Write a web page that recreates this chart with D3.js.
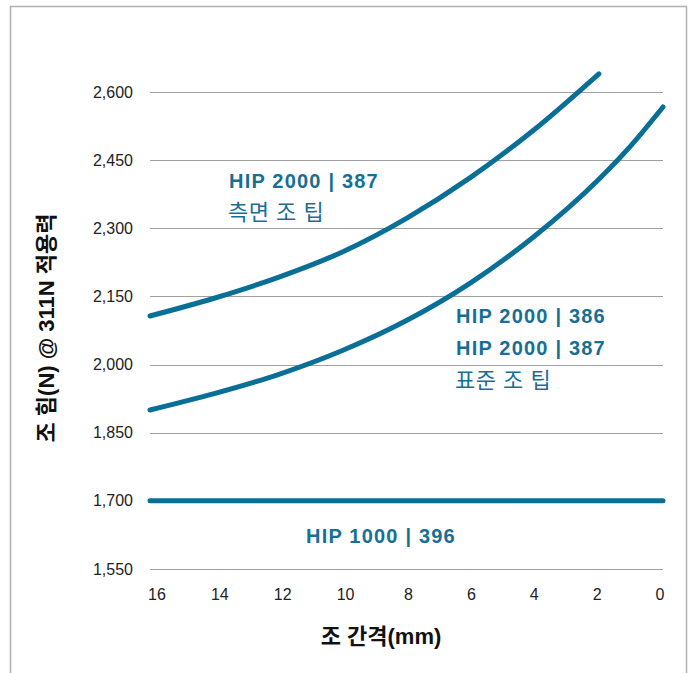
<!DOCTYPE html>
<html>
<head>
<meta charset="utf-8">
<script src="https://cdn.jsdelivr.net/npm/d3@7"></script>
<style>
  html, body { margin: 0; padding: 0; background: #fff; }
  svg text { font-family: "Liberation Sans", "Noto Sans CJK KR", sans-serif; }
</style>
</head>
<body>
<svg id="chart" width="699" height="673"></svg>
<script>
// jaw gap (mm) and jaw force (N)
var sideGap = [16, 14, 12, 10, 8, 6, 4, 2];
var sideForce = [2107, 2146, 2192, 2248, 2322, 2412, 2518, 2640];

var stdGap = [16, 14, 12, 10, 8, 6, 4, 2, 1, 0];
var stdForce = [1900, 1936, 1978, 2031, 2097, 2180, 2283, 2408, 2482, 2567];

var flatGap = [16, 0];
var flatForce = [1700, 1700];

var xTicks = [16, 14, 12, 10, 8, 6, 4, 2, 0];
var yTicks = [1550, 1700, 1850, 2000, 2150, 2300, 2450, 2600];

var BLUE = '#0a6f96';
var TEXT_BLUE = '#176f95';

var svg = d3.select('#chart');

// outer frame
svg.append('rect')
  .attr('x', 10.5).attr('y', 6.5)
  .attr('width', 676).attr('height', 700)
  .attr('fill', 'none')
  .attr('stroke', '#b0b0b0')
  .attr('stroke-width', 1.5);

var x = d3.scaleLinear().domain([16, 0]).range([150, 663]);
var xLabel = d3.scaleLinear().domain([16, 0]).range([157, 660]);
var y = d3.scaleLinear().domain([1550, 2600]).range([569, 92]);

// gridlines
svg.append('g')
  .selectAll('line')
  .data(yTicks)
  .enter()
  .append('line')
  .attr('x1', 150).attr('x2', 663)
  .attr('y1', function(d) { return Math.round(y(d)) + 0.5; })
  .attr('y2', function(d) { return Math.round(y(d)) + 0.5; })
  .attr('stroke', '#a0a0a0')
  .attr('stroke-width', 1);

// y tick labels
svg.append('g')
  .selectAll('text')
  .data(yTicks)
  .enter()
  .append('text')
  .attr('x', 133)
  .attr('y', function(d) { return y(d); })
  .attr('dy', '0.35em')
  .attr('text-anchor', 'end')
  .attr('font-size', 16)
  .attr('fill', '#222')
  .text(d3.format(','));

// x tick labels
svg.append('g')
  .selectAll('text')
  .data(xTicks)
  .enter()
  .append('text')
  .attr('x', function(d) { return xLabel(d); })
  .attr('y', 600)
  .attr('text-anchor', 'middle')
  .attr('font-size', 16)
  .attr('fill', '#222')
  .text(String);

// series
var line = d3.line()
  .x(function(d) { return x(d[0]); })
  .y(function(d) { return y(d[1]); })
  .curve(d3.curveMonotoneX);

var series = [
  d3.zip(sideGap, sideForce),
  d3.zip(stdGap, stdForce),
  d3.zip(flatGap, flatForce)
];

svg.append('g')
  .selectAll('path')
  .data(series)
  .enter()
  .append('path')
  .attr('d', line)
  .attr('fill', 'none')
  .attr('stroke', BLUE)
  .attr('stroke-width', 5)
  .attr('stroke-linecap', 'round');

// series labels
var labels = [
  { x: 229, y: 188, text: 'HIP 2000 | 387', bold: true },
  { x: 228, y: 220, text: '측면 조 팁', bold: false },
  { x: 456, y: 323, text: 'HIP 2000 | 386', bold: true },
  { x: 456, y: 355, text: 'HIP 2000 | 387', bold: true },
  { x: 455, y: 388, text: '표준 조 팁', bold: false },
  { x: 306, y: 543, text: 'HIP 1000 | 396', bold: true }
];

svg.append('g')
  .selectAll('text')
  .data(labels)
  .enter()
  .append('text')
  .attr('x', function(d) { return d.x; })
  .attr('y', function(d) { return d.y; })
  .attr('font-size', function(d) { return d.bold ? 20 : 22; })
  .attr('letter-spacing', function(d) { return d.bold ? 1.2 : 0.5; })
  .attr('font-weight', function(d) { return d.bold ? 'bold' : 'normal'; })
  .attr('fill', TEXT_BLUE)
  .text(function(d) { return d.text; });

// axis titles
svg.append('text')
  .attr('x', 381)
  .attr('y', 644)
  .attr('text-anchor', 'middle')
  .attr('font-size', 22)
  .attr('font-weight', 'bold')
  .attr('fill', '#111')
  .text('조 간격(mm)');

svg.append('text')
  .attr('transform', 'translate(54,328) rotate(-90)')
  .attr('text-anchor', 'middle')
  .attr('font-size', 22)
  .attr('font-weight', 'bold')
  .attr('fill', '#111')
  .text('조 힘(N) @ 311N 적용력');
</script>
</body>
</html>
